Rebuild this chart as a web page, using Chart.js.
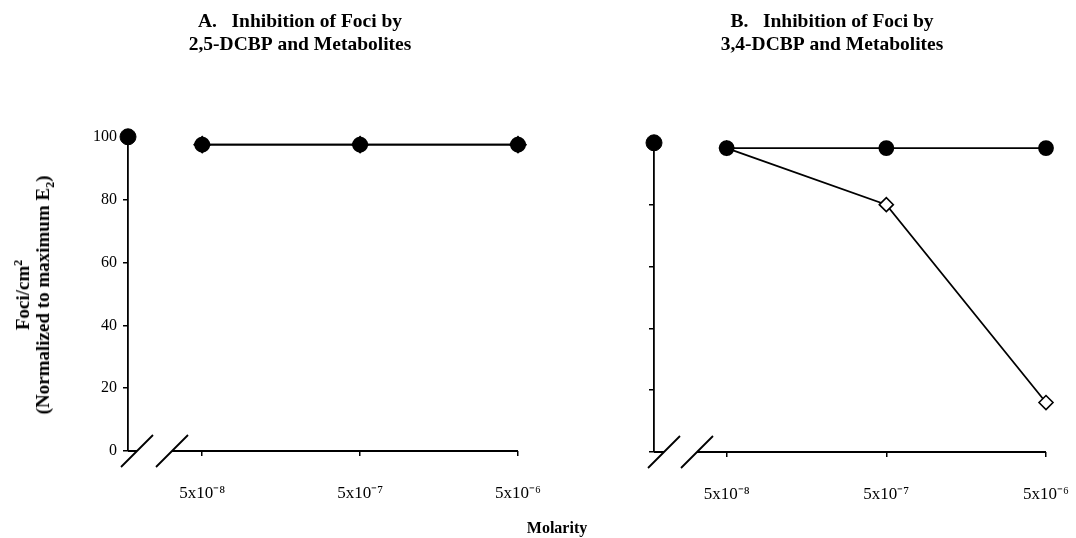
<!DOCTYPE html>
<html>
<head>
<meta charset="utf-8">
<script src="https://cdn.jsdelivr.net/npm/chart.js@4.4.0/dist/chart.umd.min.js"></script>
<style>
    body { margin: 0; background: #fff; }
    #wrap { position: relative; width: 1076px; height: 538px; overflow: hidden; font-family: 'Liberation Serif', serif; color: #000; }
    .panel { position: absolute; top: 0; height: 538px; }
    #panelA { left: 0; width: 600px; }
    #panelB { left: 560px; width: 516px; }
    #yTitle {
        position: absolute; left: 33px; top: 295px;
        transform: translate(-50%, -50%) rotate(-90deg);
        white-space: nowrap; text-align: center;
        font-weight: bold; font-size: 19px; line-height: 20px;
    }
    #yTitle sup, #yTitle sub { font-size: 12px; line-height: 0; }
    #xTitle {
        position: absolute; left: 557px; top: 528px;
        transform: translate(-50%, -50%);
        font-weight: bold; font-size: 16px;
    }
</style>
</head>
<body>
<div id="wrap">
    <div class="panel" id="panelA"><canvas id="chartA"></canvas></div>
    <div class="panel" id="panelB"><canvas id="chartB"></canvas></div>
    <div id="yTitle">Foci/cm<sup>2</sup><br>(Normalized to maximum E<sub>2</sub>)</div>
    <div id="xTitle">Molarity</div>
</div>
<script>
// doses (molar) and tick labels
const doseLabels = ['5x10⁻⁸', '5x10⁻⁷', '5x10⁻⁶'];
const yTicks = [0, 20, 40, 60, 80, 100];

// E2 alone (control), plotted at the y axis
const controlE2 = 100;

// panel A: 2,5-DCBP and its metabolites (all overlap)
const dcbp25 = [97.5, 97.5, 97.5];
const dcbp25Metab = [97.5, 97.5, 97.5];

// panel B: 3,4-DCBP and its metabolites
const dcbp34 = [98.3, 98.3, 98.3];
const dcbp34Metab = [98.3, 80, 16];

const serif = 'Liberation Serif';

// broken x axis: short stub, gap, two slashes
const axisBreak = {
    id: 'axisBreak',
    afterDatasetsDraw(chart, args, opts) {
        const { ctx, chartArea } = chart;
        const y = chartArea.bottom;
        const c1 = chartArea.left + opts.cut1;
        const c2 = chartArea.left + opts.cut2;
        ctx.save();
        ctx.strokeStyle = '#000';
        ctx.lineWidth = 1.8;
        ctx.beginPath();
        ctx.moveTo(chartArea.left, y);
        ctx.lineTo(c1, y);
        ctx.moveTo(c2, y);
        ctx.lineTo(chartArea.right, y);
        [c1, c2].forEach(cx => {
            ctx.moveTo(cx - 16, y + 16);
            ctx.lineTo(cx + 16, y - 16);
        });
        ctx.stroke();
        ctx.restore();
    }
};

function points(values) {
    return values.map((v, i) => ({ x: i, y: v }));
}

function makeChart(id, cfg) {
    return new Chart(document.getElementById(id), {
        type: 'line',
        data: {
            datasets: [
                {
                    label: 'E2',
                    data: [{ x: cfg.xMin, y: controlE2 }],
                    showLine: false,
                    pointStyle: 'circle',
                    pointRadius: 8,
                    backgroundColor: '#000',
                    borderColor: '#000',
                    clip: false
                },
                {
                    label: cfg.names[0],
                    data: points(cfg.parent),
                    borderColor: '#000',
                    borderWidth: 1.8,
                    pointStyle: 'circle',
                    pointRadius: 7,
                    pointBackgroundColor: '#000',
                    pointBorderColor: '#000',
                    clip: false
                },
                {
                    label: cfg.names[1],
                    data: points(cfg.metab),
                    borderColor: '#000',
                    borderWidth: 1.8,
                    pointStyle: 'rectRot',
                    pointRadius: cfg.metabRadius,
                    pointBorderWidth: 1.6,
                    pointBackgroundColor: cfg.metabFill,
                    pointBorderColor: '#000',
                    clip: false
                }
            ]
        },
        options: {
            responsive: true,
            maintainAspectRatio: false,
            animation: false,
            layout: { padding: { top: 10, left: cfg.padLeft, right: cfg.padRight, bottom: 0 } },
            plugins: {
                legend: { display: false },
                tooltip: { enabled: false },
                title: {
                    display: true,
                    text: cfg.title,
                    color: '#000',
                    font: { family: serif, size: 19.5, weight: 'bold', lineHeight: 1.2 },
                    padding: { top: 0, bottom: cfg.titleGap }
                },
                axisBreak: { cut1: cfg.cut1, cut2: cfg.cut2 }
            },
            scales: {
                x: {
                    type: 'linear',
                    min: cfg.xMin,
                    max: 2,
                    afterBuildTicks: s => { s.ticks = doseLabels.map((_, i) => ({ value: i })); },
                    afterFit: s => {
                        s.height = 538 - cfg.bottom;
                        s.paddingLeft = 0;
                        s.paddingRight = 0;
                    },
                    ticks: {
                        callback: v => doseLabels[Math.round(v)],
                        color: '#000',
                        font: { family: serif, size: 17 },
                        padding: 27,
                        maxRotation: 0,
                        autoSkip: false
                    },
                    grid: { drawOnChartArea: false, drawTicks: true, tickLength: 5, color: '#000', lineWidth: 1.5 },
                    border: { display: false }
                },
                y: {
                    min: 0,
                    max: 100,
                    afterBuildTicks: s => { s.ticks = yTicks.map(v => ({ value: v })); },
                    afterFit: s => { s.width = cfg.yWidth; },
                    ticks: {
                        display: cfg.yLabels,
                        color: '#000',
                        font: { family: serif, size: 16 },
                        padding: 6
                    },
                    grid: { drawOnChartArea: false, drawTicks: true, tickLength: 5, color: '#000', lineWidth: 1.5 },
                    border: { display: true, color: '#000', width: 1.8 }
                }
            }
        },
        plugins: [axisBreak]
    });
}

makeChart('chartA', {
    title: ['A.   Inhibition of Foci by', '2,5-DCBP and Metabolites'],
    names: ['2,5-DCBP', '2,5-DCBP metabolites'],
    parent: dcbp25,
    metab: dcbp25Metab,
    metabFill: '#000',
    metabRadius: 8,
    xMin: -0.47,
    padLeft: 82,
    padRight: 82,
    yWidth: 46,
    yLabels: true,
    titleGap: 80,
    bottom: 451,
    cut1: 9,
    cut2: 44
});

makeChart('chartB', {
    title: ['B.   Inhibition of Foci by', '3,4-DCBP and Metabolites'],
    names: ['3,4-DCBP', '3,4-DCBP metabolite'],
    parent: dcbp34,
    metab: dcbp34Metab,
    metabFill: '#fff',
    metabRadius: 7,
    xMin: -0.455,
    padLeft: 58,
    padRight: 30,
    yWidth: 36,
    yLabels: false,
    titleGap: 86,
    bottom: 452,
    cut1: 10,
    cut2: 43
});
</script>
</body>
</html>
